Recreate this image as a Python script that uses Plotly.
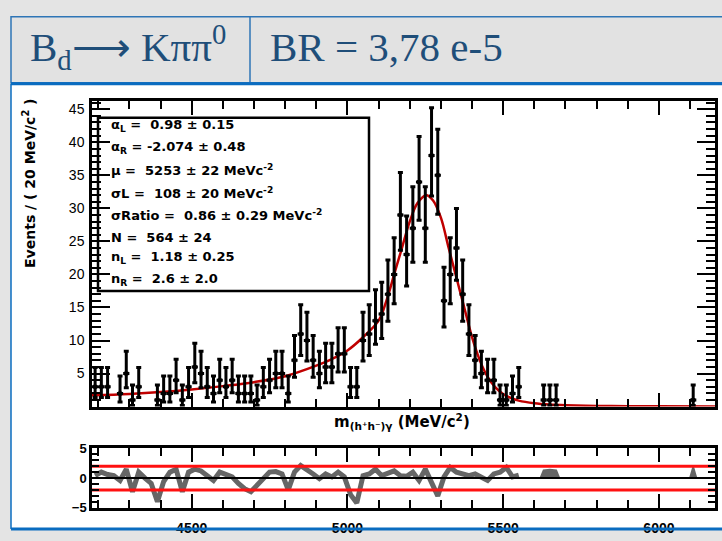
import math
import plotly.graph_objects as go

W, H = 722, 541

# ---------------- data ----------------
bin_low = 4180
bin_width = 20
counts = [3, 3, 3, 0, 2, 5, 1, 3, 0, 0,
          1, 2, 2, 4, 1, 3, 6, 5, 3, 2,
          4, 3, 4, 2, 2, 2, 1, 3, 4, 5,
          5, 2, 7, 11, 10, 7, 5, 6, 6, 8,
          8, 3, 3, 10, 11, 13, 14, 17, 20, 29,
          23, 27, 34, 27, 38, 35, 16, 20, 24, 17,
          11, 7, 5, 4, 4, 1, 1, 2, 3, 0,
          0, 0, 1, 1, 1, 0, 0, 0, 0, 0,
          0, 0, 0, 0, 0, 0, 0, 0, 0, 0,
          0, 0, 0, 0, 0, 0, 1, 0, 0, 0]

fit_x = [4180, 4250, 4300, 4400, 4500, 4600, 4700, 4800, 4900, 4950, 5000, 5050,
         5100, 5125, 5150, 5175, 5200, 5225, 5253, 5275, 5300, 5325, 5350, 5375,
         5400, 5425, 5450, 5475, 5500, 5525, 5550, 5600, 5650, 5700, 5800, 5900,
         6000, 6180]
fit_y = [1.7, 1.8, 1.9, 2.2, 2.6, 3.1, 3.7, 4.6, 6.2, 7.2, 8.5, 10.5,
         13.0, 16.0, 20.0, 24.0, 28.0, 30.8, 32.0, 31.2, 28.6, 24.0, 19.5, 15.0,
         10.5, 7.0, 4.5, 2.9, 1.9, 1.3, 0.9, 0.5, 0.3, 0.2, 0.1, 0.06,
         0.04, 0.02]

pulls = [0.4, 1.0, 0.6, 0.4, -0.4, 1.5, -2.3, 1.0, 0.0, -0.9,
         -4.0, -0.6, 1.0, 1.5, -2.3, 1.0, 1.5, 1.2, 0.4, -0.4,
         1.0, 0.7, 0.2, -0.9, -1.8, -2.3, -1.2, 0.2, 1.0, 1.1,
         0.7, -2.0, 1.0, 2.1, 1.5, 0.7, -0.1, 0.7, 0.2, 1.0,
         0.2, -2.8, -4.2, 0.4, 0.7, 1.5, 0.4, 0.7, 1.2, 0.4,
         0.3, 1.0, -0.4, 1.5, -0.9, -3.0, 0.2, 1.8, 1.0, 0.7,
         0.4, 0.7, 0.2, -0.4, 0.7, 1.0, 1.8, 0.2, 0.5, None,
         None, None, 1.3, 1.4, 1.3, None, None, None, None, None,
         None, None, None, None, None, None, None, None, None, None,
         None, None, None, None, None, None, 1.8, None, None, None]

param_lines = [
    "α<sub>L</sub> =  0.98 ± 0.15",
    "α<sub>R</sub> = -2.074 ± 0.48",
    "μ =  5253 ± 22 MeVc<sup>-2</sup>",
    "σL =  108 ± 20 MeVc<sup>-2</sup>",
    "σRatio =  0.86 ± 0.29 MeVc<sup>-2</sup>",
    "N =  564 ± 24",
    "n<sub>L</sub> =  1.18 ± 0.25",
    "n<sub>R</sub> =  2.6 ± 2.0",
]

header_left = "B<sub>d</sub>⟶ Kππ<sup>0</sup>"
header_right = "BR = 3,78 e-5"

# ---------------- helpers ----------------
def px(x):
    return x / W

def py(y):
    return 1 - y / H

centers = [bin_low + bin_width * (i + 0.5) for i in range(len(counts))]

def poisson_err(n):
    lo = n - n * (1 - 1 / (9 * n) - 1 / (3 * math.sqrt(n))) ** 3 if n > 0 else 0
    m = n + 1
    hi = m * (1 - 1 / (9 * m) + 1 / (3 * math.sqrt(m))) ** 3 - n
    return lo, hi

dx, dy, elo, ehi = [], [], [], []
for c, n in zip(centers, counts):
    if n <= 0:
        continue
    lo, hi = poisson_err(n)
    dx.append(c)
    dy.append(n)
    elo.append(lo)
    ehi.append(hi)

fig = go.Figure()

# fit curve
fig.add_trace(go.Scatter(x=fit_x, y=fit_y, mode="lines", line=dict(color="#c00000", width=2.5, shape="spline"),
                         xaxis="x", yaxis="y", hoverinfo="skip"))

# data points
fig.add_trace(go.Scatter(
    x=dx, y=dy, mode="markers", xaxis="x", yaxis="y",
    marker=dict(color="black", size=4, symbol="square"),
    error_x=dict(type="constant", value=bin_width / 2, color="black", thickness=3, width=0),
    error_y=dict(type="data", symmetric=False, array=ehi, arrayminus=elo, color="black", thickness=3, width=2.5),
))

# pull panel
segments = []
cur = []
for c, p in zip(centers, pulls):
    if p is None:
        if cur:
            segments.append(cur)
            cur = []
    else:
        cur.append((c, p))
if cur:
    segments.append(cur)

for seg in segments:
    xs = [s[0] for s in seg]
    ys = [s[1] for s in seg]
    if len(seg) <= 3:
        xs = [xs[0] - bin_width / 2] + xs + [xs[-1] + bin_width / 2]
        ys = [0] + ys + [0]
        fig.add_trace(go.Scatter(x=xs, y=ys, mode="lines", fill="toself", fillcolor="#666666",
                                 line=dict(color="#666666", width=2), xaxis="x2", yaxis="y2", hoverinfo="skip"))
    else:
        fig.add_trace(go.Scatter(x=xs, y=ys, mode="lines", line=dict(color="#666666", width=5),
                                 xaxis="x2", yaxis="y2", hoverinfo="skip"))

for lvl, col, wd in [(2, "#ff1010", 3), (-2, "#ff1010", 3), (0, "black", 2)]:
    fig.add_trace(go.Scatter(x=[bin_low, bin_low + bin_width * len(counts)], y=[lvl, lvl], mode="lines",
                             line=dict(color=col, width=wd), xaxis="x2", yaxis="y2", hoverinfo="skip"))

xr = [bin_low, bin_low + bin_width * len(counts)]
xdom = [px(92), px(715)]
tickfont = dict(family="Liberation Sans", size=14, color="black")

common_x = dict(range=xr, domain=xdom, ticks="inside", tick0=4500, dtick=500, ticklen=14, tickwidth=2,
                minor=dict(ticks="inside", dtick=100, ticklen=8, tickwidth=2, tickcolor="black"),
                showline=True, linecolor="black", linewidth=2.5, mirror="ticks", showgrid=False,
                zeroline=False, tickcolor="black")

fig.update_layout(
    width=W, height=H, margin=dict(l=0, r=0, t=0, b=0),
    paper_bgcolor="#e4e4e4", plot_bgcolor="white", showlegend=False,
    xaxis=dict(**common_x, anchor="y", showticklabels=False),
    yaxis=dict(range=[0, 46.2], domain=[py(411), py(97)], anchor="x", ticks="inside", dtick=5, ticklen=18,
               tickwidth=2, tickcolor="black",
               minor=dict(ticks="inside", dtick=1, ticklen=9, tickwidth=2, tickcolor="black"),
               showline=True, linecolor="black", linewidth=2.5, mirror="ticks", showgrid=False, zeroline=False,
               tickfont=tickfont, tickprefix="<b>", ticksuffix="</b>", tickvals=[5, 10, 15, 20, 25, 30, 35, 40, 45],
               ticklabelstandoff=2),
    xaxis2=dict(**common_x, anchor="y2", showticklabels=True, tickfont=tickfont, ticklabelstandoff=6,
                tickvals=[4500, 5000, 5500, 6000], ticktext=["<b>4500</b>", "<b>5000</b>", "<b>5500</b>", "<b>6000</b>"]),
    yaxis2=dict(range=[-5, 5], domain=[py(515), py(454)], anchor="x2", ticks="inside", ticklen=12,
                tickwidth=2, tickcolor="black", tickvals=[-5, 0, 5], ticktext=["<b>−5</b>", "<b>0</b>", "<b>5</b>"],
                minor=dict(ticks="inside", dtick=1, ticklen=7, tickwidth=2, tickcolor="black"),
                showline=True, linecolor="black", linewidth=2.5, mirror="ticks", showgrid=False, zeroline=False,
                tickfont=dict(family="Liberation Sans", size=13, color="black")),
)

shapes = []
# white picture area
shapes.append(dict(type="rect", xref="paper", yref="paper", x0=px(11), x1=px(724), y0=py(537), y1=py(79),
                   fillcolor="white", line=dict(width=0), layer="below"))
# header boxes
shapes.append(dict(type="rect", xref="paper", yref="paper", x0=px(11), x1=px(725), y0=py(78), y1=py(10),
                   fillcolor="#e2e2e2", line=dict(color="#2e75b6", width=1.5), layer="below"))
shapes.append(dict(type="line", xref="paper", yref="paper", x0=px(250), x1=px(250), y0=py(78), y1=py(10),
                   line=dict(color="#2e75b6", width=1.5)))
shapes.append(dict(type="line", xref="paper", yref="paper", x0=px(11), x1=px(722), y0=py(79), y1=py(79),
                   line=dict(color="#0a6cc0", width=3)))
shapes.append(dict(type="line", xref="paper", yref="paper", x0=px(11), x1=px(11), y0=py(79), y1=py(537),
                   line=dict(color="#0a6cc0", width=1.5)))
shapes.append(dict(type="line", xref="paper", yref="paper", x0=px(11), x1=px(722), y0=py(537), y1=py(537),
                   line=dict(color="#0a6cc0", width=3)))
# parameter box
shapes.append(dict(type="rect", xref="paper", yref="paper", x0=px(98), x1=px(369), y0=py(292), y1=py(114),
                   line=dict(color="black", width=2.5), fillcolor="rgba(0,0,0,0)"))

annotations = []
ycent = [122, 145, 168, 191, 214, 237, 258, 280]
for t, yc in zip(param_lines, ycent):
    annotations.append(dict(text="<b>" + t + "</b>", xref="paper", yref="paper", x=px(109), y=py(yc),
                            xanchor="left", yanchor="middle", showarrow=False,
                            font=dict(family="DejaVu Sans", size=13, color="black")))

annotations.append(dict(text="<b>Events / ( 20 MeV/c<sup>2</sup> )</b>", xref="paper", yref="paper",
                        x=px(29), y=py(182), textangle=-90, xanchor="center", yanchor="middle", showarrow=False,
                        font=dict(family="DejaVu Sans", size=14, color="black")))
annotations.append(dict(text="<b>m<sub>(h⁺h⁻)γ</sub> (MeV/c<sup>2</sup>)</b>", xref="paper", yref="paper",
                        x=px(402), y=py(426), xanchor="center", yanchor="middle", showarrow=False,
                        font=dict(family="DejaVu Sans", size=15, color="black")))
annotations.append(dict(text=header_left, xref="paper", yref="paper", x=px(28), y=py(41),
                        xanchor="left", yanchor="middle", showarrow=False,
                        font=dict(family="Liberation Serif", size=41, color="#1f4e79")))
annotations.append(dict(text=header_right, xref="paper", yref="paper", x=px(268), y=py(41),
                        xanchor="left", yanchor="middle", showarrow=False,
                        font=dict(family="Liberation Serif", size=41, color="#1f4e79")))

fig.update_layout(shapes=shapes, annotations=annotations)
fig.write_html("out.html")
